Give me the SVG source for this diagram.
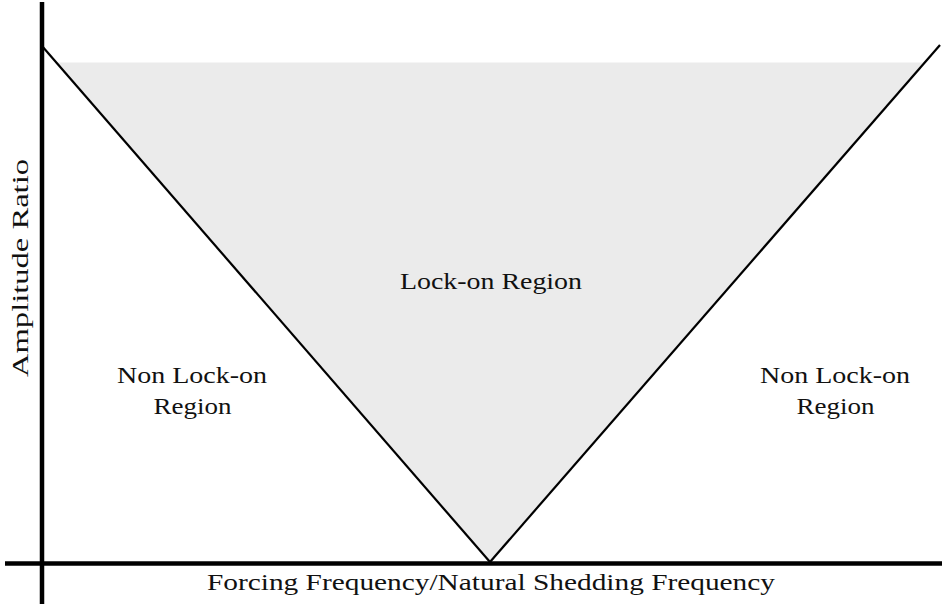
<svg xmlns="http://www.w3.org/2000/svg" width="942" height="604" viewBox="0 0 942 604">
<style>
.t{font-family:"Liberation Serif","Times New Roman",serif;font-size:24px;fill:#111;text-anchor:middle}
.ax{stroke:#000;stroke-width:4.5;fill:none}
.ln{stroke:#000;stroke-width:2.2;fill:none}
</style>
<rect width="942" height="604" fill="#fff"/>
<g id="lock-on-region">
<polygon points="56.3,62.5 924.8,62.5 490,562" fill="#ebebeb"/>
<text class="t" x="491" y="289" textLength="182" lengthAdjust="spacingAndGlyphs">Lock-on Region</text>
</g>
<g id="connectors">
<line class="ln" x1="42" y1="46" x2="490" y2="562"/>
<line class="ln" x1="940" y1="45" x2="490" y2="562"/>
<line class="ax" x1="42" y1="2" x2="42" y2="604"/>
<line class="ax" x1="5" y1="563.5" x2="942" y2="563.5"/>
</g>
<g id="non-lock-on-left">
<text class="t" x="192" y="383" textLength="150" lengthAdjust="spacingAndGlyphs">Non Lock-on</text>
<text class="t" x="192.5" y="414" textLength="78" lengthAdjust="spacingAndGlyphs">Region</text>
</g>
<g id="non-lock-on-right">
<text class="t" x="835" y="383" textLength="150" lengthAdjust="spacingAndGlyphs">Non Lock-on</text>
<text class="t" x="835.5" y="414" textLength="78" lengthAdjust="spacingAndGlyphs">Region</text>
</g>
<g id="x-axis-label">
<text class="t" x="491" y="590" textLength="568" lengthAdjust="spacingAndGlyphs">Forcing Frequency/Natural Shedding Frequency</text>
</g>
<g id="y-axis-label">
<text class="t" transform="translate(28,268) rotate(-90)" x="0" y="0" textLength="218" lengthAdjust="spacingAndGlyphs">Amplitude Ratio</text>
</g>
</svg>
